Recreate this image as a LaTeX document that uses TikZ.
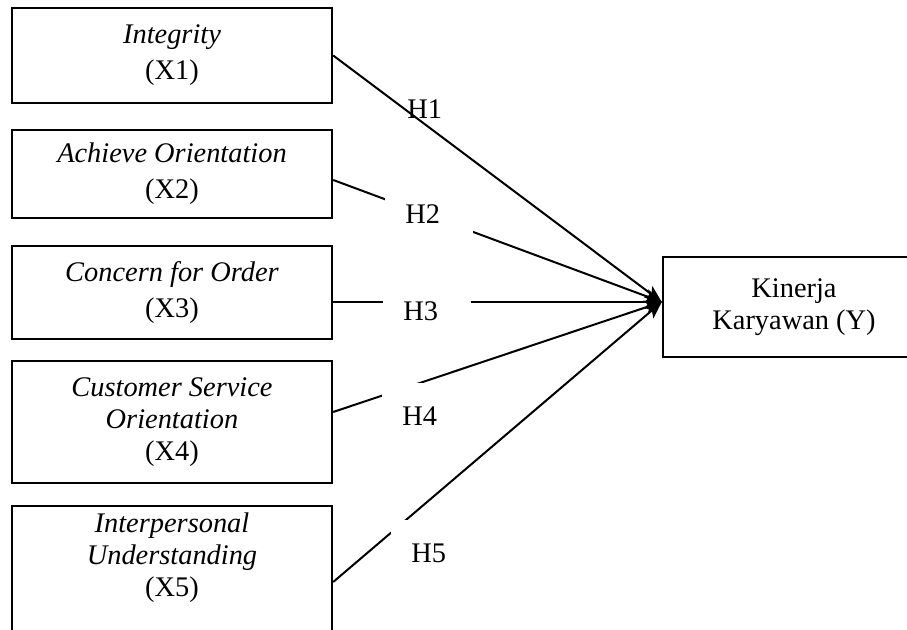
\documentclass[tikz,border=0pt]{standalone}
\usepackage{fontspec}
\setmainfont{Liberation Serif}
\usetikzlibrary{arrows.meta, positioning}

\begin{document}
\begin{tikzpicture}[
  x=0.5pt, y=0.5pt,
  var/.style={rectangle, draw, line width=1.2pt, minimum width=160pt, align=center, font=\fontsize{14.2}{18}\selectfont},
  dep/.style={var, minimum width=131pt, minimum height=50pt, font=\fontsize{14.2}{16}\selectfont},
  link/.style={-{Stealth[length=8.5pt, width=7pt, inset=2pt]}, line width=1pt},
  hyp/.style={rectangle, fill=white, inner xsep=10pt, inner ysep=0pt, text width=24pt, align=left, text height=21.3pt, text depth=8.7pt, anchor=north west, font=\fontsize{14.2}{16}\selectfont}
]
\clip (0,0) rectangle (907,630);

% Variabel bebas
\node[var, minimum height=47.5pt] (integ) at (172,574.5) {\textit{Integrity}\\(X1)};
\node[var, minimum height=44pt] (achv) at (172,456) {\textit{Achieve Orientation}\\(X2)};
\node[var, minimum height=46.5pt] (order) at (172,337.5) {\textit{Concern for Order}\\(X3)};
\node[var, minimum height=61pt, font=\fontsize{14.2}{16}\selectfont] (cust) at (172,208) {\textit{Customer Service}\\\textit{Orientation}\\(X4)};
\node[var, anchor=north, text depth=60pt, font=\fontsize{14.2}{16}\selectfont] (inter) at (172,125) {\textit{Interpersonal}\\\textit{Understanding}\\(X5)};

% Variabel terikat
\node[dep] (kin) at (794,323) {Kinerja\\Karyawan (Y)};
\coordinate (tip) at ([yshift=2.5pt]kin.west);

% Garis hipotesis
\draw[link] (integ.east) -- (tip);
\draw[link] ([yshift=-3pt]achv.east) -- (tip);
\draw[link] ([yshift=-4.75pt]order.east) -- (tip);
\draw[link] ([yshift=5pt]cust.east) -- (tip);
\draw[link] ([yshift=-38.5pt]inter.north east) -- (tip);

% Label hipotesis
\node[hyp, fill=none] (h1) at (387,554) {H1};
\node[hyp] (h2) at (385,449) {H2};
\node[hyp] (h3) at (383,352) {H3};
\node[hyp] (h4) at (382,247) {H4};
\node[hyp] (h5) at (391,110) {H5};

\end{tikzpicture}
\end{document}
